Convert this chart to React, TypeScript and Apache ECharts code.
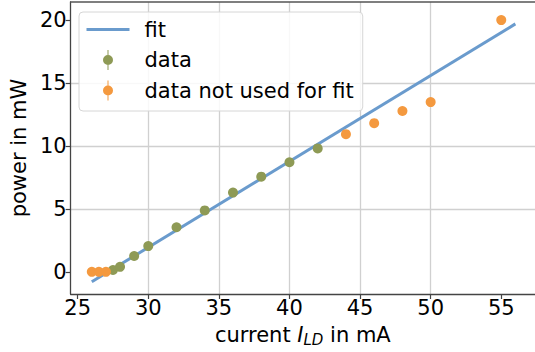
import React, { useEffect, useRef } from "react";
import * as echarts from "echarts";

// fit line endpoints
const fitX = [26, 56];
const fitY = [-0.79, 19.7];

// data used for the fit
const usedX = [27.5, 28, 29, 30, 32, 34, 36, 38, 40, 42];
const usedY = [0.15, 0.4, 1.26, 2.05, 3.54, 4.88, 6.3, 7.56, 8.71, 9.81];

// data not used for the fit
const unusedX = [26, 26.5, 27, 44, 46, 48, 50, 55];
const unusedY = [0.0, 0.0, 0.0, 10.94, 11.81, 12.78, 13.49, 20.0];

const xTicks = [25, 30, 35, 40, 45, 50, 55];
const yTicks = [0, 5, 10, 15, 20];

const FONT = "DejaVu Sans";
const FS = 21;
const C_FIT = "#6a9bcd";
const C_DATA = "#8e9a55";
const C_UNUSED = "#f4993f";

export default function App() {
  const ref = useRef<HTMLDivElement>(null);
  useEffect(() => {
    if (!ref.current) return;
    const chart = echarts.init(ref.current, undefined, { renderer: "svg" });
    const gridCol = "#d0d0d0";
    const spine = "#444";
    chart.setOption({
      animation: false,
      textStyle: { fontFamily: FONT },
      grid: { left: 69, right: 0, top: 2, bottom: 55.3, containLabel: false },
      xAxis: [
        {
          type: "value",
          min: 24.5,
          max: 57.39,
          splitNumber: 6,
          axisLine: { show: true, onZero: false, lineStyle: { color: spine, width: 1.3 } },
          axisTick: { show: true, length: 5, customValues: xTicks, lineStyle: { color: spine, width: 1.2 } },
          axisLabel: { customValues: xTicks, fontSize: FS, color: "#000", margin: 3, fontFamily: FONT },
          splitLine: { show: true, showMinLine: false, showMaxLine: false, lineStyle: { color: gridCol, width: 1.3 } },
          name: "{n|current }{i|I}{s|LD}{n| in mA}",
          nameLocation: "middle",
          nameGap: 28,
          nameTextStyle: {
            fontSize: FS,
            color: "#000",
            fontFamily: FONT,
            rich: {
              n: { fontSize: FS, fontFamily: FONT, color: "#000" },
              i: { fontSize: FS, fontFamily: FONT, fontStyle: "italic", color: "#000" },
              s: { fontSize: 15, fontFamily: FONT, fontStyle: "italic", color: "#000", padding: [10, 0, 0, 0] },
            },
          },
        },
        {
          type: "value",
          position: "top",
          min: 24.5,
          max: 57.39,
          axisLine: { show: true, onZero: false, lineStyle: { color: "#555", width: 1.5 } },
          axisTick: { show: false },
          axisLabel: { show: false },
          splitLine: { show: false },
        },
      ],
      yAxis: {
        type: "value",
        min: -1.76,
        max: 21.44,
        splitNumber: 5,
        axisLine: { show: true, onZero: false, lineStyle: { color: spine, width: 1.3 } },
        axisTick: { show: true, length: 5, customValues: yTicks, lineStyle: { color: spine, width: 1.2 } },
        axisLabel: { customValues: yTicks, fontSize: FS, color: "#000", margin: 4, fontFamily: FONT },
        splitLine: { show: true, showMinLine: false, showMaxLine: false, lineStyle: { color: gridCol, width: 1.3 } },
        name: "power in mW",
        nameLocation: "middle",
        nameGap: 31,
        nameTextStyle: { fontSize: FS, color: "#000", fontFamily: FONT },
      },
      legend: {
        orient: "vertical",
        left: 79,
        top: 12,
        padding: [7, 9, 10, 7.5],
        itemWidth: 43,
        itemHeight: 20,
        itemGap: 9.5,
        backgroundColor: "rgba(255,255,255,0.85)",
        borderColor: "#d6d6d6",
        borderWidth: 1,
        borderRadius: 4,
        textStyle: { fontSize: FS, color: "#000", fontFamily: FONT, padding: [0, 0, 0, 10] },
        data: [
          { name: "fit", icon: "path://M0,0H43V3H0Z" },
          { name: "data", icon: "path://M4.5,0H5.5V5H4.5Z M0,10A5,5 0 1 1 10,10A5,5 0 1 1 0,10Z M4.5,15H5.5V20H4.5Z" },
          { name: "data not used for fit", icon: "path://M4.5,0H5.5V5H4.5Z M0,10A5,5 0 1 1 10,10A5,5 0 1 1 0,10Z M4.5,15H5.5V20H4.5Z" },
        ],
      },
      series: [
        {
          name: "fit",
          type: "line",
          xAxisIndex: 0,
          data: fitX.map((x, i) => [x, fitY[i]]),
          showSymbol: false,
          color: C_FIT,
          lineStyle: { color: C_FIT, width: 3 },
          z: 2,
        },
        {
          name: "data",
          type: "scatter",
          xAxisIndex: 0,
          data: usedX.map((x, i) => [x, usedY[i]]),
          symbolSize: 10,
          color: C_DATA,
          itemStyle: { color: C_DATA, opacity: 1 },
          z: 3,
        },
        {
          name: "data not used for fit",
          type: "scatter",
          xAxisIndex: 0,
          data: unusedX.map((x, i) => [x, unusedY[i]]),
          symbolSize: 10,
          color: C_UNUSED,
          itemStyle: { color: C_UNUSED, opacity: 1 },
          z: 4,
        },
      ],
    });
    return () => chart.dispose();
  }, []);
  return <div ref={ref} style={{ width: 535, height: 352, position: "absolute", left: 0, top: 0 }} />;
}
